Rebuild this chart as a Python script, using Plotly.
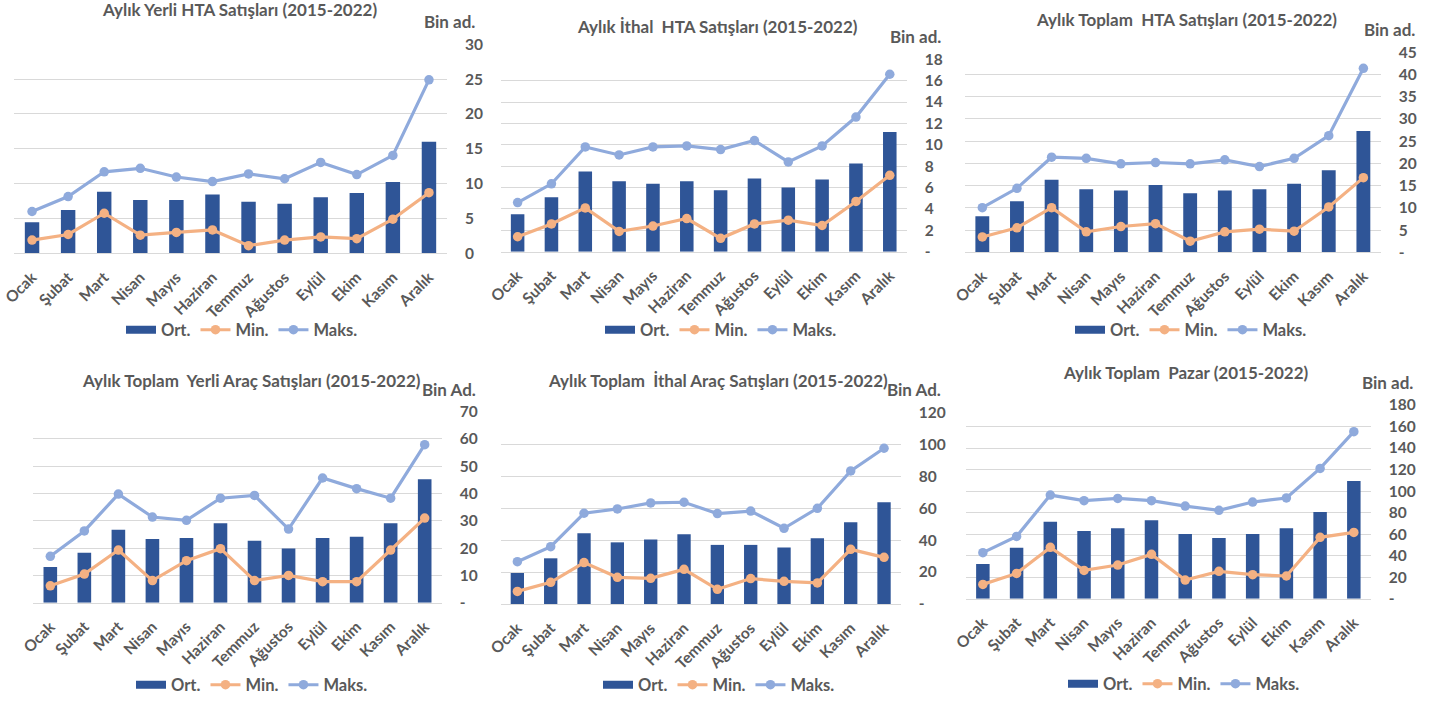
import plotly.graph_objects as go

W, H = 1439, 702


def fx(px):
    return px / W


def fy(py):
    return 1 - py / H


months = ["Ocak", "Şubat", "Mart", "Nisan", "Mayıs", "Haziran",
          "Temmuz", "Ağustos", "Eylül", "Ekim", "Kasım", "Aralık"]

# Aylık Yerli HTA Satışları (bin adet)
yerli_hta_ort = [4.45, 6.2, 8.85, 7.65, 7.65, 8.45, 7.4, 7.1, 8.05, 8.65, 10.25, 16.0]
yerli_hta_min = [1.9, 2.7, 5.75, 2.6, 3.0, 3.35, 1.1, 1.9, 2.35, 2.1, 4.9, 8.7]
yerli_hta_maks = [6.0, 8.15, 11.7, 12.2, 10.95, 10.3, 11.4, 10.7, 13.05, 11.3, 14.05, 24.9]

# Aylık İthal HTA Satışları
ithal_hta_ort = [3.5, 5.1, 7.5, 6.6, 6.35, 6.6, 5.75, 6.85, 6.0, 6.75, 8.25, 11.2]
ithal_hta_min = [1.4, 2.6, 4.1, 1.9, 2.4, 3.1, 1.25, 2.6, 2.95, 2.45, 4.7, 7.15]
ithal_hta_maks = [4.6, 6.35, 9.8, 9.05, 9.8, 9.9, 9.55, 10.4, 8.4, 9.9, 12.6, 16.6]

# Aylık Toplam HTA Satışları
toplam_hta_ort = [8.1, 11.5, 16.35, 14.2, 13.9, 15.15, 13.3, 13.9, 14.2, 15.45, 18.45, 27.3]
toplam_hta_min = [3.45, 5.5, 10.05, 4.6, 5.8, 6.45, 2.5, 4.6, 5.2, 4.75, 10.2, 16.8]
toplam_hta_maks = [10.05, 14.4, 21.4, 21.15, 19.9, 20.2, 19.9, 20.8, 19.3, 21.15, 26.25, 41.4]

# Aylık Toplam Yerli Araç Satışları
yerli_arac_ort = [13.1, 18.3, 26.7, 23.3, 23.7, 29.1, 22.7, 19.9, 23.7, 24.2, 29.1, 45.2]
yerli_arac_min = [6.2, 10.5, 19.3, 8.1, 15.4, 19.8, 8.1, 10.0, 7.7, 7.7, 19.3, 31.0]
yerli_arac_maks = [17.0, 26.3, 39.8, 31.4, 30.2, 38.3, 39.3, 27.0, 45.7, 41.8, 38.3, 57.9]

# Aylık Toplam İthal Araç Satışları
ithal_arac_ort = [19.4, 28.6, 44.3, 38.6, 40.3, 43.6, 37.0, 37.0, 35.3, 41.1, 51.1, 63.7]
ithal_arac_min = [7.9, 13.6, 25.9, 16.7, 16.1, 21.7, 9.2, 15.9, 14.2, 13.2, 34.2, 29.2]
ithal_arac_maks = [26.5, 35.9, 56.8, 59.5, 63.3, 63.7, 56.6, 58.2, 47.4, 59.9, 83.3, 97.5]

# Aylık Toplam Pazar
pazar_ort = [32.2, 47.4, 71.6, 62.9, 65.4, 72.8, 60.1, 56.4, 60.1, 65.4, 80.5, 109.4]
pazar_min = [13.3, 23.5, 47.7, 26.3, 31.3, 41.2, 17.3, 25.4, 22.3, 21.1, 57.0, 61.6]
pazar_maks = [42.8, 57.9, 96.3, 91.1, 93.2, 91.1, 86.1, 82.1, 89.8, 93.6, 121.1, 155.2]

titles = [
    "Aylık Yerli HTA Satışları (2015-2022)",
    "Aylık İthal  HTA Satışları (2015-2022)",
    "Aylık Toplam  HTA Satışları (2015-2022)",
    "Aylık Toplam  Yerli Araç Satışları (2015-2022)",
    "Aylık Toplam  İthal Araç Satışları (2015-2022)",
    "Aylık Toplam  Pazar (2015-2022)",
]
units = ["Bin ad.", "Bin ad.", "Bin ad.", "Bin Ad.", "Bin Ad.", "Bin ad."]
y_max = [30, 18, 45, 70, 120, 180]
y_step = [5, 2, 5, 10, 20, 20]
zero_label = ["0", "-", "-", "-", "-", "-"]
series = [
    (yerli_hta_ort, yerli_hta_min, yerli_hta_maks),
    (ithal_hta_ort, ithal_hta_min, ithal_hta_maks),
    (toplam_hta_ort, toplam_hta_min, toplam_hta_maks),
    (yerli_arac_ort, yerli_arac_min, yerli_arac_maks),
    (ithal_arac_ort, ithal_arac_min, ithal_arac_maks),
    (pazar_ort, pazar_min, pazar_maks),
]

# Panel frames (px): plot left, plot right, baseline y, top gridline y
frames = [
    (14, 447, 253.3, 44.3),
    (500.7, 906.7, 251.7, 59.3),
    (965, 1380.7, 252.3, 52.3),
    (33.3, 441.7, 602.7, 411.7),
    (500.7, 900.7, 604, 412.3),
    (966, 1370.7, 598.7, 405),
]
# Title centre, unit label right edge / centre y, legend centre
title_pos = [(240, 10), (717, 27), (1186, 20), (251, 380), (718, 380), (1186, 372)]
unit_pos = [(477, 21), (943, 37), (1417, 30), (478, 389), (943, 389), (1415, 382)]
legend_pos = [(242, 330), (721, 330), (1191, 330), (252, 685), (719, 685), (1184, 684)]

BAR = "#2F5597"
ORANGE = "#F4B183"
LIGHTBLUE = "#8FAADC"
TEXT = "#595959"
GRID = "#D9D9D9"
FONT = "Lato"


def bold(size):
    return dict(family=FONT, size=size, color=TEXT, weight="bold")


fig = go.Figure()
layout = dict(
    template="none",
    width=W, height=H, autosize=False,
    margin=dict(l=0, r=0, t=0, b=0, pad=0, autoexpand=False),
    paper_bgcolor="white", plot_bgcolor="white",
    bargap=0.6, showlegend=True,
    font=dict(family=FONT, color=TEXT),
    annotations=[],
)

for i in range(6):
    n = i + 1
    sfx = "" if n == 1 else str(n)
    ort, mn, mx = series[i]
    x0, x1, yb, yt = frames[i]
    leg = "legend" if n == 1 else f"legend{n}"
    xa, ya = f"x{sfx}", f"y{sfx}"

    fig.add_trace(go.Bar(
        x=months, y=ort, name="Ort.", marker=dict(color=BAR, line=dict(width=0)),
        xaxis=xa, yaxis=ya, showlegend=False,
    ))
    # legend key for the columns, drawn as a wide block like the column swatch
    fig.add_trace(go.Scatter(
        x=[None], y=[None], name="Ort.", mode="lines",
        line=dict(color=BAR, width=8), xaxis=xa, yaxis=ya, legend=leg,
    ))
    fig.add_trace(go.Scatter(
        x=months, y=mn, name="Min.", mode="lines+markers",
        line=dict(color=ORANGE, width=3.2), marker=dict(color=ORANGE, size=9.5),
        xaxis=xa, yaxis=ya, legend=leg,
    ))
    fig.add_trace(go.Scatter(
        x=months, y=mx, name="Maks.", mode="lines+markers",
        line=dict(color=LIGHTBLUE, width=3.2), marker=dict(color=LIGHTBLUE, size=9.5),
        xaxis=xa, yaxis=ya, legend=leg,
    ))

    tickvals = list(range(0, y_max[i] + 1, y_step[i]))
    ticktext = [zero_label[i]] + [str(v) for v in tickvals[1:]]

    layout[f"xaxis{sfx}"] = dict(
        domain=[fx(x0), fx(x1)], anchor=ya, type="category",
        range=[-0.5, 11.5], tickangle=-45, showgrid=False, automargin=False,
        showline=True, linecolor=GRID, linewidth=1, ticks="", zeroline=False,
        ticklabelstandoff=8, tickfont=bold(15.5), fixedrange=True,
    )
    layout[f"yaxis{sfx}"] = dict(
        domain=[fy(yb), fy(yt)], anchor=xa, side="right",
        range=[0, y_max[i]], tickvals=tickvals, ticktext=ticktext,
        showgrid=True, gridcolor=GRID, gridwidth=1, zeroline=False,
        showline=False, ticks="", ticklabelstandoff=17, automargin=False,
        tickfont=bold(15.5), fixedrange=True,
    )
    lx, ly = legend_pos[i]
    layout[leg] = dict(
        orientation="h", x=fx(lx), y=fy(ly), xanchor="center", yanchor="middle",
        xref="paper", yref="paper", bgcolor="rgba(0,0,0,0)", borderwidth=0,
        font=bold(16.5), itemwidth=30, traceorder="normal",
    )
    tx, ty = title_pos[i]
    layout["annotations"].append(dict(
        text=titles[i], x=fx(tx), y=fy(ty), xref="paper", yref="paper",
        xanchor="center", yanchor="middle", showarrow=False, font=bold(17),
    ))
    ux, uy = unit_pos[i]
    layout["annotations"].append(dict(
        text=units[i], x=fx(ux), y=fy(uy), xref="paper", yref="paper",
        xanchor="right", yanchor="middle", showarrow=False, font=bold(17),
    ))

fig.update_layout(**layout)
fig.write_html("out.html", config={"displayModeBar": False, "staticPlot": True})
